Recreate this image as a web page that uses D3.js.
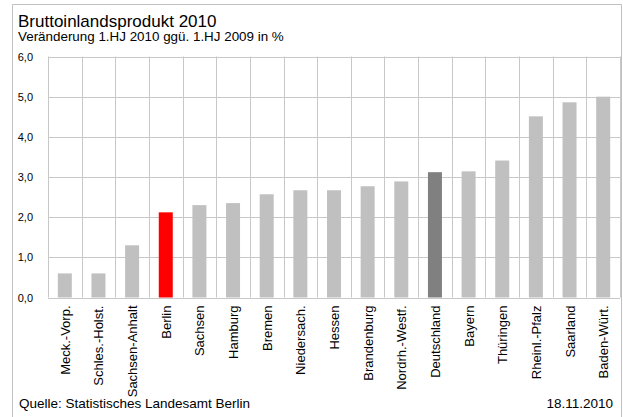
<!DOCTYPE html>
<html><head><meta charset="utf-8">
<script src="https://cdn.jsdelivr.net/npm/d3@7"></script>
<style>body{margin:0;background:#fff}svg{display:block;font-family:"Liberation Sans",Arial,sans-serif}</style>
</head><body><svg id="c" width="623" height="417"></svg>
<script>
const categories = ["Meck.-Vorp.","Schles.-Holst.","Sachsen-Anhalt","Berlin","Sachsen","Hamburg","Bremen","Niedersach.","Hessen","Brandenburg","Nordrh.-Westf.","Deutschland","Bayern","Thüringen","Rheinl.-Pfalz","Saarland","Baden-Würt."];
const values = [0.6,0.6,1.3,2.12,2.3,2.35,2.57,2.67,2.67,2.77,2.89,3.12,3.14,3.41,4.51,4.86,5.0];
const yTicks = [0,1,2,3,4,5,6];
const title = "Bruttoinlandsprodukt 2010";
const subtitle = "Veränderung 1.HJ 2010 ggü. 1.HJ 2009 in %";
const source = "Quelle: Statistisches Landesamt Berlin";
const dateText = "18.11.2010";

const svg = d3.select("#c");
const L = 48, R = 620, T = 56.5, B = 297.5;
const x = d3.scaleBand().domain(categories).range([L, R]).paddingInner(0).paddingOuter(0);
const y = d3.scaleLinear().domain([0, 6]).range([B, T]);

// frame
svg.append("path").attr("d", "M12.5,420 V4.5 H621.5 V420").attr("fill","none").attr("stroke","#c0c0c0").attr("stroke-width",1);

// grid
const g = svg.append("g");
g.selectAll("line.h").data(yTicks).join("line")
  .attr("x1", L).attr("x2", R).attr("y1", d => Math.round(y(d))+0.5).attr("y2", d => Math.round(y(d))+0.5)
  .attr("stroke", "#c8c8c8").attr("stroke-width", 1);
const vb = categories.map(c => x(c)).concat([R]);
g.selectAll("line.v").data(vb).join("line")
  .attr("x1", d => Math.round(d)+0.5).attr("x2", d => Math.round(d)+0.5).attr("y1", T).attr("y2", B)
  .attr("stroke", "#c8c8c8").attr("stroke-width", 1);

// bars
const bw = 14;
svg.selectAll("rect.bar").data(categories).join("rect")
  .attr("x", d => x(d) + x.bandwidth()/2 - bw/2)
  .attr("width", bw)
  .attr("y", (d,i) => y(values[i]))
  .attr("height", (d,i) => y(0) - y(values[i]))
  .attr("fill", d => d === "Berlin" ? "#ff0000" : d === "Deutschland" ? "#808080" : "#c0c0c0");

// y axis
const ya = svg.append("g").attr("transform", `translate(${L},0)`)
  .call(d3.axisLeft(y).tickValues(yTicks).tickSize(0).tickPadding(15).tickFormat(d => d3.format(".1f")(d).replace(".", ",")));
ya.select(".domain").remove();
ya.selectAll("text").attr("font-size", 11).attr("fill", "#000").attr("font-family", '"Liberation Sans",Arial,sans-serif');

// x axis
const xa = svg.append("g").attr("transform", `translate(0,${B})`)
  .call(d3.axisBottom(x).tickSize(0).tickPadding(0));
xa.select(".domain").remove();
xa.selectAll("text")
  .attr("font-size", 13).attr("fill", "#000").attr("font-family", '"Liberation Sans",Arial,sans-serif')
  .attr("text-anchor", "end").attr("dy", null).attr("y", 0).attr("x", 0)
  .attr("transform", "translate(5,8) rotate(-90)");

// texts
svg.append("text").attr("x", 18).attr("y", 26.5).attr("font-size", 17).text(title);
svg.append("text").attr("x", 18).attr("y", 41).attr("font-size", 13.4).text(subtitle);
svg.append("text").attr("x", 19).attr("y", 408).attr("font-size", 13.5).text(source);
svg.append("text").attr("x", 613).attr("y", 408).attr("font-size", 13.5).attr("text-anchor","end").text(dateText);
</script></body></html>
